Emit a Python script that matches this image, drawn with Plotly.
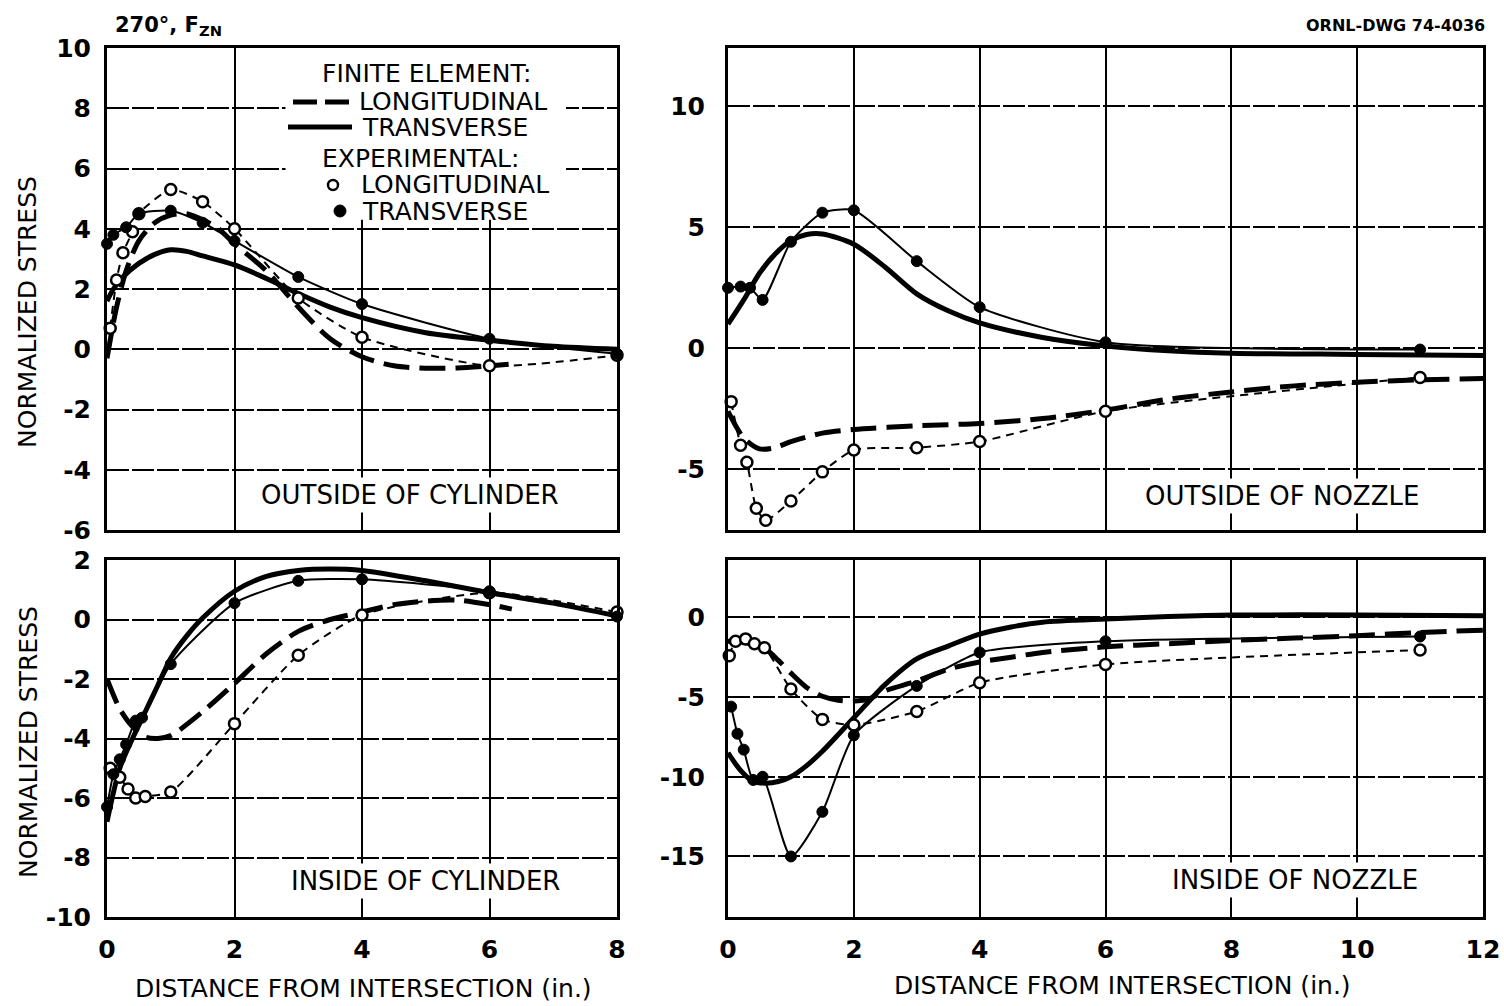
import plotly.graph_objects as go

# ------------------------------------------------------------------ data
# Outside of cylinder (top-left)
oc_fe_long_x = [0, 0.15, 0.3, 0.5, 0.75, 1.0, 1.25, 1.5, 1.75, 2.0, 2.5, 3.0, 3.5, 4.0, 4.5, 5.0, 5.5, 6.0, 6.3]
oc_fe_long_y = [-0.3, 1.4, 2.6, 3.6, 4.2, 4.45, 4.5, 4.3, 4.0, 3.5, 2.6, 1.4, 0.35, -0.25, -0.55, -0.63, -0.62, -0.55, -0.5]
oc_fe_tran_x = [0, 0.1, 0.25, 0.5, 0.75, 1.0, 1.25, 1.5, 2.0, 2.5, 3.0, 3.5, 4.0, 5.0, 6.0, 7.0, 8.0]
oc_fe_tran_y = [1.6, 2.0, 2.4, 2.85, 3.15, 3.3, 3.25, 3.1, 2.8, 2.35, 1.85, 1.4, 1.05, 0.55, 0.3, 0.1, 0.0]
oc_ex_long_x = [0.05, 0.15, 0.25, 0.4, 0.5, 1.0, 1.5, 2.0, 3.0, 4.0, 6.0, 8.0]
oc_ex_long_y = [0.7, 2.3, 3.2, 3.9, 4.5, 5.3, 4.9, 4.0, 1.7, 0.4, -0.55, -0.2]
oc_ex_tran_x = [0.0, 0.1, 0.3, 0.5, 1.0, 1.5, 2.0, 3.0, 4.0, 6.0, 8.0]
oc_ex_tran_y = [3.5, 3.8, 4.05, 4.5, 4.6, 4.2, 3.6, 2.4, 1.5, 0.35, -0.15]

# Outside of nozzle (top-right)
on_fe_long_x = [0, 0.25, 0.5, 0.75, 1.0, 1.5, 2.0, 3.0, 4.0, 5.0, 6.0, 7.0, 8.0, 9.0, 10.0, 11.0, 12.0]
on_fe_long_y = [-2.6, -3.7, -4.15, -4.1, -3.85, -3.5, -3.35, -3.2, -3.1, -2.9, -2.55, -2.1, -1.8, -1.55, -1.4, -1.3, -1.25]
on_fe_tran_x = [0, 0.25, 0.5, 0.75, 1.0, 1.25, 1.5, 2.0, 2.5, 3.0, 3.5, 4.0, 5.0, 6.0, 7.0, 8.0, 10.0, 12.0]
on_fe_tran_y = [1.0, 2.0, 3.1, 3.9, 4.45, 4.7, 4.72, 4.3, 3.35, 2.25, 1.55, 1.05, 0.45, 0.1, -0.1, -0.2, -0.25, -0.3]
on_ex_long_x = [0.05, 0.2, 0.3, 0.45, 0.6, 1.0, 1.5, 2.0, 3.0, 4.0, 6.0, 11.0]
on_ex_long_y = [-2.2, -4.0, -4.7, -6.6, -7.1, -6.3, -5.1, -4.2, -4.1, -3.85, -2.6, -1.2]
on_ex_tran_x = [0.0, 0.2, 0.35, 0.55, 1.0, 1.5, 2.0, 3.0, 4.0, 6.0, 11.0]
on_ex_tran_y = [2.5, 2.55, 2.5, 2.0, 4.4, 5.6, 5.7, 3.6, 1.7, 0.25, -0.05]

# Inside of cylinder (bottom-left)
ic_fe_long_x = [0, 0.2, 0.4, 0.6, 0.8, 1.0, 1.5, 2.0, 2.5, 3.0, 3.5, 4.0, 4.5, 5.0, 5.5, 6.0, 6.35]
ic_fe_long_y = [-2.0, -3.0, -3.6, -3.95, -4.0, -3.9, -3.1, -2.15, -1.15, -0.4, 0.0, 0.25, 0.5, 0.62, 0.65, 0.5, 0.35]
ic_fe_tran_x = [0, 0.2, 0.4, 0.6, 0.8, 1.0, 1.25, 1.5, 2.0, 2.5, 3.0, 3.5, 4.0, 5.0, 6.0, 7.0, 8.0]
ic_fe_tran_y = [-6.8, -5.0, -4.0, -3.1, -2.2, -1.3, -0.55, 0.05, 0.95, 1.45, 1.65, 1.7, 1.65, 1.3, 0.9, 0.55, 0.12]
ic_ex_long_x = [0.05, 0.2, 0.33, 0.45, 0.6, 1.0, 2.0, 3.0, 4.0, 6.0, 8.0]
ic_ex_long_y = [-5.0, -5.3, -5.7, -6.0, -5.95, -5.8, -3.5, -1.2, 0.15, 0.9, 0.25]
ic_ex_tran_x = [0.0, 0.1, 0.2, 0.3, 0.45, 0.55, 1.0, 2.0, 3.0, 4.0, 6.0, 8.0]
ic_ex_tran_y = [-6.3, -5.2, -4.7, -4.2, -3.4, -3.3, -1.5, 0.55, 1.3, 1.35, 0.95, 0.1]

# Inside of nozzle (bottom-right)
in_fe_long_x = [0, 0.3, 0.6, 0.8, 1.0, 1.25, 1.5, 1.75, 2.0, 2.25, 2.5, 3.0, 3.5, 4.0, 4.5, 5.0, 6.0, 7.0, 8.0, 9.0, 10.0, 11.0, 12.0]
in_fe_long_y = [-1.5, -1.6, -2.0, -2.7, -3.5, -4.4, -4.95, -5.2, -5.25, -5.1, -4.6, -4.0, -3.25, -2.8, -2.5, -2.2, -1.85, -1.65, -1.45, -1.3, -1.15, -0.95, -0.8]
in_fe_tran_x = [0, 0.2, 0.4, 0.6, 0.8, 1.0, 1.25, 1.5, 2.0, 2.5, 3.0, 3.5, 4.0, 4.5, 5.0, 6.0, 7.0, 8.0, 10.0, 12.0]
in_fe_tran_y = [-8.5, -9.6, -10.3, -10.4, -10.3, -10.0, -9.3, -8.4, -6.3, -4.2, -2.6, -1.8, -1.05, -0.6, -0.3, -0.1, 0.05, 0.15, 0.15, 0.1]
in_ex_long_x = [0.02, 0.12, 0.28, 0.42, 0.58, 1.0, 1.5, 2.0, 3.0, 4.0, 6.0, 11.0]
in_ex_long_y = [-2.4, -1.5, -1.35, -1.65, -1.9, -4.5, -6.4, -6.75, -5.9, -4.1, -2.95, -2.05]
in_ex_tran_x = [0.05, 0.15, 0.25, 0.4, 0.55, 1.0, 1.5, 2.0, 3.0, 4.0, 6.0, 11.0]
in_ex_tran_y = [-5.6, -7.3, -8.3, -10.2, -10.0, -15.0, -12.2, -7.4, -4.3, -2.2, -1.5, -1.2]

# tick labels
left_x_ticks = [0, 2, 4, 6, 8]
right_x_ticks = [0, 2, 4, 6, 8, 10, 12]
oc_y_ticks = [-6, -4, -2, 0, 2, 4, 6, 8, 10]
on_y_ticks = [-5, 0, 5, 10]
ic_y_ticks = [-10, -8, -6, -4, -2, 0, 2]
in_y_ticks = [-15, -10, -5, 0]

# ------------------------------------------------------------------ figure
W, H = 1504, 1006
FONT = "DejaVu Sans, Verdana, sans-serif"


def px(v):
    return v / W


def py(v):
    return 1 - v / H


fig = go.Figure()

panels = [
    ("x", "y", oc_fe_long_x, oc_fe_long_y, oc_fe_tran_x, oc_fe_tran_y,
     oc_ex_long_x, oc_ex_long_y, oc_ex_tran_x, oc_ex_tran_y),
    ("x2", "y2", on_fe_long_x, on_fe_long_y, on_fe_tran_x, on_fe_tran_y,
     on_ex_long_x, on_ex_long_y, on_ex_tran_x, on_ex_tran_y),
    ("x3", "y3", ic_fe_long_x, ic_fe_long_y, ic_fe_tran_x, ic_fe_tran_y,
     ic_ex_long_x, ic_ex_long_y, ic_ex_tran_x, ic_ex_tran_y),
    ("x4", "y4", in_fe_long_x, in_fe_long_y, in_fe_tran_x, in_fe_tran_y,
     in_ex_long_x, in_ex_long_y, in_ex_tran_x, in_ex_tran_y),
]

for (xa, ya, flx, fly, ftx, fty, elx, ely, etx, ety) in panels:
    fig.add_trace(go.Scatter(x=flx, y=fly, xaxis=xa, yaxis=ya, mode="lines",
                             line=dict(color="black", width=5, dash="26px,10px", shape="spline", smoothing=0.8),
                             name="Finite element: longitudinal", showlegend=False, cliponaxis=False))
    fig.add_trace(go.Scatter(x=ftx, y=fty, xaxis=xa, yaxis=ya, mode="lines",
                             line=dict(color="black", width=5, shape="spline", smoothing=0.8),
                             name="Finite element: transverse", showlegend=False, cliponaxis=False))
    fig.add_trace(go.Scatter(x=elx, y=ely, xaxis=xa, yaxis=ya, mode="lines+markers",
                             line=dict(color="black", width=2, dash="8px,6px", shape="spline", smoothing=0.6),
                             marker=dict(symbol="circle", size=11, color="white",
                                         line=dict(color="black", width=2.5)),
                             name="Experimental: longitudinal", showlegend=False, cliponaxis=False))
    fig.add_trace(go.Scatter(x=etx, y=ety, xaxis=xa, yaxis=ya, mode="lines+markers",
                             line=dict(color="black", width=2, shape="spline", smoothing=0.6),
                             marker=dict(symbol="circle", size=11, color="black",
                                         line=dict(color="black", width=1)),
                             name="Experimental: transverse", showlegend=False, cliponaxis=False))

tickfont = dict(family=FONT, size=25, color="black", weight="bold")
common = dict(showline=True, mirror=True, linecolor="black", linewidth=3, automargin=False,
              showgrid=True, gridcolor="black", zeroline=False,
              ticks="outside", tickcolor="rgba(0,0,0,0)", tickfont=tickfont)

xl = [px(107), px(617)]
xr = [px(728), px(1483)]
yt = [py(530), py(48)]
yb = [py(917), py(560)]


def labels(vals):
    return [str(v) for v in vals]


fig.update_layout(
    width=W, height=H, margin=dict(l=0, r=0, t=0, b=0, autoexpand=False),
    paper_bgcolor="white", plot_bgcolor="white", showlegend=False,
    font=dict(family=FONT, color="black"),
    xaxis=dict(domain=xl, range=[0, 8], anchor="y", tickvals=left_x_ticks, showticklabels=False,
               gridwidth=2, **common),
    yaxis=dict(domain=yt, range=[-6, 10], anchor="x", tickvals=oc_y_ticks, ticktext=labels(oc_y_ticks),
               ticklen=8, gridwidth=1.5, griddash="22px,3px", **common),
    xaxis2=dict(domain=xr, range=[0, 12], anchor="y2", tickvals=right_x_ticks, showticklabels=False,
                gridwidth=2, **common),
    yaxis2=dict(domain=yt, range=[-7.5, 12.4], anchor="x2", tickvals=on_y_ticks, ticktext=labels(on_y_ticks),
                ticklen=15, gridwidth=1.5, griddash="22px,3px", **common),
    xaxis3=dict(domain=xl, range=[0, 8], anchor="y3", tickvals=left_x_ticks, ticktext=labels(left_x_ticks),
                ticklen=8, gridwidth=2, **common),
    yaxis3=dict(domain=yb, range=[-10, 2], anchor="x3", tickvals=ic_y_ticks, ticktext=labels(ic_y_ticks),
                ticklen=8, gridwidth=1.5, griddash="22px,3px", **common),
    xaxis4=dict(domain=xr, range=[0, 12], anchor="y4", tickvals=right_x_ticks, ticktext=labels(right_x_ticks),
                ticklen=8, gridwidth=2, **common),
    yaxis4=dict(domain=yb, range=[-18.8, 3.6], anchor="x4", tickvals=in_y_ticks, ticktext=labels(in_y_ticks),
                ticklen=15, gridwidth=1.5, griddash="22px,3px", **common),
)

# white background behind the legend (hides the grid there)
fig.add_shape(type="rect", xref="x", yref="y", x0=2.8, x1=7.2, y0=4.3, y1=10,
              fillcolor="white", line=dict(width=0), layer="between")

shapes = [
    dict(type="line", xref="paper", yref="paper", x0=px(293), x1=px(352), y0=py(102), y1=py(102),
         line=dict(color="black", width=5, dash="24px,8px")),
    dict(type="line", xref="paper", yref="paper", x0=px(288), x1=px(352), y0=py(127), y1=py(127),
         line=dict(color="black", width=5)),
    dict(type="circle", xref="paper", yref="paper", x0=px(328), x1=px(338), y0=py(190), y1=py(180),
         fillcolor="white", line=dict(color="black", width=2.5)),
    dict(type="circle", xref="paper", yref="paper", x0=px(334), x1=px(346), y0=py(217), y1=py(205),
         fillcolor="black", line=dict(color="black", width=1)),
]
for s in shapes:
    fig.add_shape(**s)


def note(text, x, y, size=25, xanchor="left", angle=0, weight="normal", family=FONT, bg=None):
    fig.add_annotation(text=text, x=px(x), y=py(y), xref="paper", yref="paper",
                       xanchor=xanchor, yanchor="middle", showarrow=False, textangle=angle,
                       bgcolor=bg, borderpad=2,
                       font=dict(family=family, size=size, color="black", weight=weight))


note("FINITE ELEMENT:", 319, 74)
note("LONGITUDINAL", 356, 102)
note("TRANSVERSE", 359, 127)
note("EXPERIMENTAL:", 319, 158)
note("LONGITUDINAL", 358, 185)
note("TRANSVERSE", 359, 211)

note("OUTSIDE OF CYLINDER", 410, 495, size=26, xanchor="center", bg="white")
note("INSIDE OF CYLINDER", 425, 881, size=26, xanchor="center", bg="white")
note("OUTSIDE OF NOZZLE", 1282, 496, size=26, xanchor="center", bg="white")
note("INSIDE OF NOZZLE", 1295, 880, size=26, xanchor="center", bg="white")

note("NORMALIZED STRESS", 28, 312, size=25, xanchor="center", angle=-90)
note("NORMALIZED STRESS", 28, 742, size=25, xanchor="center", angle=-90)
note("DISTANCE FROM INTERSECTION (in.)", 363, 988, size=25, xanchor="center")
note("DISTANCE FROM INTERSECTION (in.)", 1122, 985, size=25, xanchor="center")

note("270°, F<sub>ZN</sub>", 112, 26, size=21, weight="bold")
note("ORNL-DWG 74-4036", 1488, 25, size=16, xanchor="right", weight="bold")

fig.write_html("out.html")
